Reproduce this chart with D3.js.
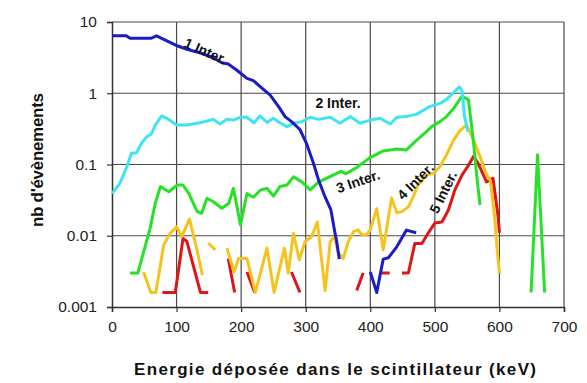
<!DOCTYPE html>
<html>
<head>
<meta charset="utf-8">
<script src="https://cdn.jsdelivr.net/npm/d3@7"></script>
<style>
  html, body { margin: 0; padding: 0; background: #fff; }
  svg { display: block; }
  text { font-family: "Liberation Sans", Arial, sans-serif; }
</style>
</head>
<body>
<svg id="chart" width="587" height="383"></svg>
<script>
// Energy ticks (keV) and count ticks (log scale)
const energyTicks = [0, 100, 200, 300, 400, 500, 600, 700];
const countTicks = [0.001, 0.01, 0.1, 1, 10];
const countTickLabels = ["0.001", "0.01", "0.1", "1", "10"];

// Spectra: [energy keV, nb d'évènements]; null breaks the curve (empty bins)
const inter1 = [[0,6.4],[10,6.4],[22,6.4],[28,5.9],[60,5.9],[69,6.4],[85,5.45],[102,4.6],[116,4.15],[136,3.7],[157,3.15],[170,2.68],[180,2.58],[193,2.12],[209,1.62],[219,1.5],[234,1.14],[245,0.94],[258,0.65],[268,0.47],[278,0.4],[291,0.31],[301,0.2],[312,0.104],[320,0.06],[330,0.035],[339,0.023],[345,0.0114],[348,0.0083],[352,0.0047],null,
  [400,0.0031],[410,0.0016],[420,0.0047],[428,0.0049],[441,0.007],[456,0.012],[471,0.011]];

const inter2 = [[0,0.039],[12,0.054],[23,0.093],[30,0.144],[38,0.146],[46,0.2],[54,0.245],[61,0.268],[67,0.358],[77,0.48],[85,0.445],[100,0.358],[116,0.358],[136,0.386],[157,0.43],[167,0.37],[178,0.43],[188,0.42],[198,0.46],[209,0.46],[220,0.386],[229,0.48],[240,0.39],[250,0.445],[260,0.386],[271,0.34],[281,0.38],[294,0.4],[307,0.46],[320,0.43],[338,0.46],[353,0.38],[369,0.47],[384,0.38],[400,0.42],[415,0.445],[431,0.37],[441,0.46],[456,0.47],[472,0.51],[487,0.61],[492,0.65],[508,0.72],[518,0.82],[528,1.0],[538,1.23],[542,1.1],[546,0.47],[551,0.29]];

const inter3 = [[28,0.003],[40,0.003],[47,0.0051],[59,0.0127],[67,0.0286],[75,0.049],[88,0.0415],[101,0.0515],[110,0.0515],[119,0.039],[132,0.0218],[139,0.0207],[147,0.0336],[157,0.03],[170,0.0243],[181,0.0286],[188,0.0463],[199,0.0142],[209,0.039],[219,0.0347],[230,0.0438],[240,0.0463],[250,0.036],[260,0.049],[271,0.0515],[281,0.067],[294,0.057],[307,0.044],[320,0.057],[332,0.064],[348,0.075],[355,0.08],[362,0.074],[380,0.092],[390,0.108],[400,0.125],[420,0.155],[441,0.165],[456,0.16],[472,0.22],[487,0.29],[495,0.34],[508,0.4],[518,0.47],[529,0.61],[542,0.91],[552,0.81],[560,0.2],[565,0.067],[570,0.027],null,
  [649,0.0016],[659,0.137],[670,0.0016]];

const inter4 = [[49,0.0031],[60,0.0016],[68,0.0016],[80,0.0074],[90,0.0108],[100,0.0134],[108,0.0097],[120,0.0172],[131,0.0067],[140,0.0028],null,
  [149,0.0079],[160,0.0063],null,
  [178,0.0067],[189,0.0031],[196,0.0048],[209,0.0048],[222,0.0016],[240,0.0067],[251,0.0016],[267,0.0067],[273,0.003],[281,0.0108],[290,0.0046],[299,0.0083],[309,0.0097],[318,0.0156],[330,0.0017],[338,0.0083],[345,0.0097],[350,0.0059],[358,0.0048],[366,0.0083],[374,0.0114],[381,0.0121],[387,0.0103],[394,0.0103],[400,0.0121],[410,0.024],[420,0.0063],[433,0.034],[441,0.021],[449,0.0218],[459,0.0254],[467,0.036],[474,0.052],[487,0.071],[498,0.075],[508,0.093],[518,0.137],[529,0.22],[539,0.3],[549,0.36],[560,0.22],[570,0.13],[580,0.072],[586,0.06],[593,0.0166],[597,0.0057],[600,0.003]];

const inter5 = [[78,0.0016],[98,0.0016],[110,0.0092],[116,0.0083],[137,0.0016],[149,0.0016],null,
  [180,0.0048],[190,0.0016],null,
  [209,0.0031],[221,0.0016],null,
  [278,0.0031],[291,0.0016],null,
  [379,0.0017],[389,0.003],null,
  [418,0.003],[430,0.003],null,
  [449,0.003],[459,0.003],[469,0.0078],[480,0.0078],[490,0.011],[500,0.0151],[511,0.0156],[521,0.023],[531,0.044],[542,0.071],[549,0.088],[560,0.13],[567,0.104],[580,0.057],[590,0.064],[598,0.0185],[600,0.011]];

const seriesNames = ["1 Inter.", "2 Inter.", "3 Inter.", "4 Inter.", "5 Inter."];
const seriesColors = ["#1c1cc4", "#3ee4f2", "#27e127", "#f5c31e", "#e01616"];
const seriesData = [inter1, inter2, inter3, inter4, inter5];

// Curve labels: anchor energy / count, rotation
const labelPos = [
  { e: 145, n: 3.9, rot: 24 },
  { e: 350, n: 0.72, rot: 0 },
  { e: 381, n: 0.058, rot: -19 },
  { e: 470, n: 0.058, rot: -45 },
  { e: 513, n: 0.041, rot: -64 }
];

const svg = d3.select("#chart");
const x = d3.scaleLinear().domain([0, 700]).range([112, 564]);
const y = d3.scaleLog().domain([0.001, 10]).range([307, 22]);

const gridColor = "#4a4a4a";

// Grid lines
svg.append("g").selectAll("line.h").data(countTicks.slice(1)).join("line")
  .attr("x1", x(0)).attr("x2", x(700))
  .attr("y1", d => y(d)).attr("y2", d => y(d))
  .attr("stroke", gridColor).attr("stroke-width", 1.2);
svg.append("g").selectAll("line.v").data(energyTicks.slice(1)).join("line")
  .attr("x1", d => x(d)).attr("x2", d => x(d))
  .attr("y1", y(10)).attr("y2", y(0.001))
  .attr("stroke", gridColor).attr("stroke-width", 1.2);

// Axes
const xAxis = d3.axisBottom(x).tickValues(energyTicks).tickSize(5).tickPadding(9).tickFormat(d3.format("d"));
const yAxis = d3.axisLeft(y).tickValues(countTicks).tickSize(5).tickPadding(10)
  .tickFormat((d, i) => countTickLabels[i]);

const gx = svg.append("g").attr("transform", `translate(0,${y(0.001)})`).call(xAxis);
const gy = svg.append("g").attr("transform", `translate(${x(0)},0)`).call(yAxis);
[gx, gy].forEach(g => {
  g.select(".domain").attr("stroke", "#333").attr("stroke-width", 1.5);
  g.selectAll(".tick line").attr("stroke", "#333").attr("stroke-width", 1.2);
  g.selectAll(".tick text").attr("fill", "#222")
    .style("font-family", "'Liberation Sans', Arial, sans-serif").style("font-size", "15.5px");
});

// Curves (last series drawn first)
const line = d3.line()
  .defined(d => d !== null)
  .x(d => x(d[0]))
  .y(d => y(d[1]));

const order = [4, 3, 2, 1, 0];
svg.append("g").selectAll("path").data(order).join("path")
  .attr("d", i => line(seriesData[i]))
  .attr("fill", "none")
  .attr("stroke", i => seriesColors[i])
  .attr("stroke-width", 3)
  .attr("stroke-linejoin", "round");

// Curve labels
svg.append("g").selectAll("text").data(labelPos).join("text")
  .attr("transform", d => `translate(${x(d.e)},${y(d.n)}) rotate(${d.rot})`)
  .attr("text-anchor", "middle")
  .attr("dy", "0.35em")
  .style("font-size", "14px").style("font-weight", "bold")
  .attr("fill", "#111")
  .text((d, i) => seriesNames[i]);

// Axis titles
svg.append("text")
  .attr("x", 335).attr("y", 375)
  .attr("text-anchor", "middle")
  .attr("textLength", 402).attr("lengthAdjust", "spacing")
  .style("font-size", "17px").style("font-weight", "bold").attr("fill", "#111")
  .text("Energie déposée dans le scintillateur (keV)");

svg.append("text")
  .attr("transform", "translate(43,160) rotate(-90)")
  .attr("text-anchor", "middle")
  .attr("textLength", 134).attr("lengthAdjust", "spacing")
  .style("font-size", "17px").style("font-weight", "bold").attr("fill", "#111")
  .text("nb d'évènements");
</script>
</body>
</html>
